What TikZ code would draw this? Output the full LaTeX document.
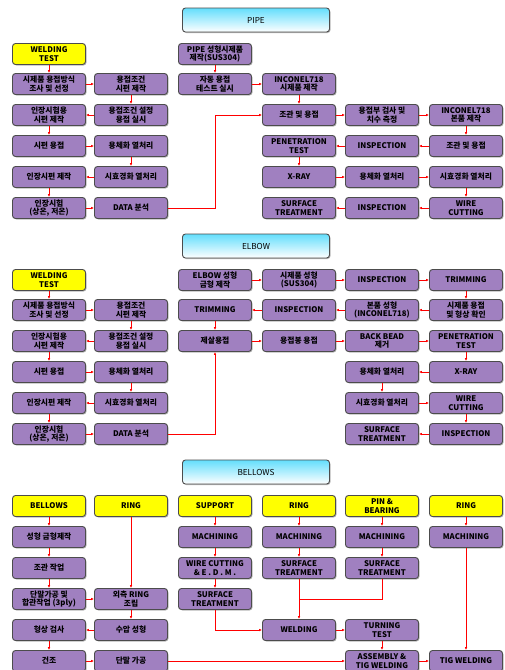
\documentclass[tikz,border=0pt]{standalone}
\usepackage{fontspec}
\setmainfont{Noto Sans CJK KR}
\usetikzlibrary{arrows.meta,shadows}

\definecolor{mov}{RGB}{160,128,192}
\definecolor{galben}{RGB}{255,255,0}
\definecolor{cian}{RGB}{100,222,252}

\tikzset{
  etapa/.style={draw=black!70, line width=0.9pt, fill=mov, rounded corners=3pt,
    minimum width=73pt, minimum height=21pt, inner sep=1pt, align=center,
    font=\bfseries\fontsize{7.8}{8.4}\selectfont,
    drop shadow={shadow xshift=1pt, shadow yshift=-1pt, fill=black!55}},
  test/.style={etapa, fill=galben},
  titlu/.style={draw=black!70, line width=0.9pt, rounded corners=3pt,
    top color=cian, bottom color=white, minimum width=147pt, minimum height=24pt,
    font=\fontsize{8.2}{9}\selectfont,
    drop shadow={shadow xshift=1pt, shadow yshift=-1pt, fill=black!55}},
  sageata/.style={red, line width=0.6pt, -{Latex[length=3pt,width=2.6pt]}},
  linie/.style={red, line width=0.6pt}
}

\begin{document}
\begin{tikzpicture}[x=1pt,y=-1pt]
  \useasboundingbox[fill=white] (0,0) rectangle (505,670);

  % PIPE
  \node[titlu] (tp) at (256,20) {PIPE};
  \node[test]  (pa1) at (49,54)  {WELDING\\TEST};
  \node[etapa] (pa2) at (49,84)  {시제품 용접방식\\조사 및 선정};
  \node[etapa] (pb2) at (131,84) {용접조건\\시편 제작};
  \node[etapa] (pb3) at (131,115) {용접조건 설정\\용접 실시};
  \node[etapa] (pa3) at (49,115) {인장시험용\\시편 제작};
  \node[etapa] (pa4) at (49,146) {시편 용접};
  \node[etapa] (pb4) at (131,146) {용체화 열처리};
  \node[etapa] (pb5) at (131,177) {시효경화 열처리};
  \node[etapa] (pa5) at (49,177) {인장시편 제작};
  \node[etapa] (pa6) at (49,208) {인장시험\\(상온, 저온)};
  \node[etapa] (pb6) at (131,208) {DATA 분석};
  \node[etapa] (pc1) at (215,54) {PIPE 성형시제품\\제작(SUS304)};
  \node[etapa] (pc2) at (215,84) {자동 용접\\테스트 실시};
  \node[etapa] (pd2) at (299,84) {INCONEL718\\시제품 제작};
  \node[etapa] (pd3) at (299,115) {조관 및 용접};
  \node[etapa] (pe3) at (382,115) {용접부 검사 및\\치수 측정};
  \node[etapa] (pf3) at (466,115) {INCONEL718\\본품 제작};
  \node[etapa] (pf4) at (466,146) {조관 및 용접};
  \node[etapa] (pe4) at (382,146) {INSPECTION};
  \node[etapa] (pd4) at (299,146) {PENETRATION\\TEST};
  \node[etapa] (pd5) at (299,177) {X-RAY};
  \node[etapa] (pe5) at (382,177) {용체화 열처리};
  \node[etapa] (pf5) at (466,177) {시효경화 열처리};
  \node[etapa] (pf6) at (466,208) {WIRE\\CUTTING};
  \node[etapa] (pe6) at (382,208) {INSPECTION};
  \node[etapa] (pd6) at (299,208) {SURFACE\\TREATMENT};
  \coordinate (pcot) at (215,115);

  \draw[sageata] (pa1) -- (pa2);
  \draw[sageata] (pa2) -- (pb2);
  \draw[sageata] (pb2) -- (pb3);
  \draw[sageata] (pb3) -- (pa3);
  \draw[sageata] (pa3) -- (pa4);
  \draw[sageata] (pa4) -- (pb4);
  \draw[sageata] (pb4) -- (pb5);
  \draw[sageata] (pb5) -- (pa5);
  \draw[sageata] (pa5) -- (pa6);
  \draw[sageata] (pa6) -- (pb6);
  \draw[sageata] (pb6.east) -| (pcot) -- (pd3);
  \draw[sageata] (pc1) -- (pc2);
  \draw[sageata] (pc2) -- (pd2);
  \draw[sageata] (pd2) -- (pd3);
  \draw[sageata] (pd3) -- (pe3);
  \draw[sageata] (pe3) -- (pf3);
  \draw[sageata] (pf3) -- (pf4);
  \draw[sageata] (pf4) -- (pe4);
  \draw[sageata] (pe4) -- (pd4);
  \draw[sageata] (pd4) -- (pd5);
  \draw[sageata] (pd5) -- (pe5);
  \draw[sageata] (pe5) -- (pf5);
  \draw[sageata] (pf5) -- (pf6);
  \draw[sageata] (pf6) -- (pe6);
  \draw[sageata] (pe6) -- (pd6);

  % ELBOW
  \node[titlu] (te) at (256,246) {ELBOW};
  \node[test]  (ea1) at (49,280)  {WELDING\\TEST};
  \node[etapa] (ea2) at (49,310)  {시제품 용접방식\\조사 및 선정};
  \node[etapa] (eb2) at (131,310) {용접조건\\시편 제작};
  \node[etapa] (eb3) at (131,341) {용접조건 설정\\용접 실시};
  \node[etapa] (ea3) at (49,341) {인장시험용\\시편 제작};
  \node[etapa] (ea4) at (49,372) {시편 용접};
  \node[etapa] (eb4) at (131,372) {용체화 열처리};
  \node[etapa] (eb5) at (131,403) {시효경화 열처리};
  \node[etapa] (ea5) at (49,403) {인장시편 제작};
  \node[etapa] (ea6) at (49,434) {인장시험\\(상온, 저온)};
  \node[etapa] (eb6) at (131,434) {DATA 분석};
  \node[etapa] (ec1) at (215,280) {ELBOW 성형\\금형 제작};
  \node[etapa] (ed1) at (299,280) {시제품 성형\\(SUS304)};
  \node[etapa] (ee1) at (382,280) {INSPECTION};
  \node[etapa] (ef1) at (466,280) {TRIMMING};
  \node[etapa] (ef2) at (466,310) {시제품 용접\\및 형상 확인};
  \node[etapa] (ee2) at (382,310) {본품 성형\\(INCONEL718)};
  \node[etapa] (ed2) at (299,310) {INSPECTION};
  \node[etapa] (ec2) at (215,310) {TRIMMING};
  \node[etapa] (ec3) at (215,341) {제살용접};
  \node[etapa] (ed3) at (299,341) {용접봉 용접};
  \node[etapa] (ee3) at (382,341) {BACK BEAD\\제거};
  \node[etapa] (ef3) at (466,341) {PENETRATION\\TEST};
  \node[etapa] (ef4) at (466,372) {X-RAY};
  \node[etapa] (ee4) at (382,372) {용체화 열처리};
  \node[etapa] (ee5) at (382,403) {시효경화 열처리};
  \node[etapa] (ef5) at (466,403) {WIRE\\CUTTING};
  \node[etapa] (ef6) at (466,434) {INSPECTION};
  \node[etapa] (ee6) at (382,434) {SURFACE\\TREATMENT};

  \draw[sageata] (ea1) -- (ea2);
  \draw[sageata] (ea2) -- (eb2);
  \draw[sageata] (eb2) -- (eb3);
  \draw[sageata] (eb3) -- (ea3);
  \draw[sageata] (ea3) -- (ea4);
  \draw[sageata] (ea4) -- (eb4);
  \draw[sageata] (eb4) -- (eb5);
  \draw[sageata] (eb5) -- (ea5);
  \draw[sageata] (ea5) -- (ea6);
  \draw[sageata] (ea6) -- (eb6);
  \draw[sageata] (eb6.east) -| (ec3.south);
  \draw[sageata] (ec1) -- (ed1);
  \draw[sageata] (ed1) -- (ee1);
  \draw[sageata] (ee1) -- (ef1);
  \draw[sageata] (ef1) -- (ef2);
  \draw[sageata] (ef2) -- (ee2);
  \draw[sageata] (ee2) -- (ed2);
  \draw[sageata] (ed2) -- (ec2);
  \draw[sageata] (ec2) -- (ec3);
  \draw[sageata] (ec3) -- (ed3);
  \draw[sageata] (ed3) -- (ee3);
  \draw[sageata] (ee3) -- (ef3);
  \draw[sageata] (ef3) -- (ef4);
  \draw[sageata] (ef4) -- (ee4);
  \draw[sageata] (ee4) -- (ee5);
  \draw[sageata] (ee5) -- (ef5);
  \draw[sageata] (ef5) -- (ef6);
  \draw[sageata] (ef6) -- (ee6);

  % BELLOWS
  \node[titlu] (tb) at (256,472) {BELLOWS};
  \node[test]  (ba1) at (49,506)  {BELLOWS};
  \node[test]  (bb1) at (131,506) {RING};
  \node[test]  (bc1) at (215,506) {SUPPORT};
  \node[test]  (bd1) at (299,506) {RING};
  \node[test]  (be1) at (382,506) {PIN \&\\BEARING};
  \node[test]  (bf1) at (466,506) {RING};
  \node[etapa] (ba2) at (49,537)  {성형 금형제작};
  \node[etapa] (ba3) at (49,568)  {조관 작업};
  \node[etapa] (ba4) at (49,599)  {단말가공 및\\합관작업 (3ply)};
  \node[etapa] (bb4) at (131,599) {외측 RING\\조립};
  \node[etapa] (bb5) at (131,630) {수압 성형};
  \node[etapa] (ba5) at (49,630)  {형상 검사};
  \node[etapa] (ba6) at (49,661)  {건조};
  \node[etapa] (bb6) at (131,661) {단말 가공};
  \node[etapa] (bc2) at (215,537) {MACHINING};
  \node[etapa] (bc3) at (215,568) {WIRE CUTTING\\\& E . D . M .};
  \node[etapa] (bc4) at (215,599) {SURFACE\\TREATMENT};
  \node[etapa] (bd2) at (299,537) {MACHINING};
  \node[etapa] (bd3) at (299,568) {SURFACE\\TREATMENT};
  \node[etapa] (be2) at (382,537) {MACHINING};
  \node[etapa] (be3) at (382,568) {SURFACE\\TREATMENT};
  \node[etapa] (bf2) at (466,537) {MACHINING};
  \node[etapa] (bd5) at (299,630) {WELDING};
  \node[etapa] (be5) at (382,630) {TURNING\\TEST};
  \node[etapa] (be6) at (382,661) {ASSEMBLY \&\\TIG WELDING};
  \node[etapa] (bf6) at (466,661) {TIG WELDING};
  \coordinate (bnod) at (299,599);

  \draw[sageata] (ba1) -- (ba2);
  \draw[sageata] (ba2) -- (ba3);
  \draw[sageata] (ba3) -- (ba4);
  \draw[sageata] (ba4) -- (bb4);
  \draw[sageata] (bb1) -- (bb4);
  \draw[sageata] (bb4) -- (bb5);
  \draw[sageata] (bb5) -- (ba5);
  \draw[sageata] (ba5) -- (ba6);
  \draw[sageata] (ba6) -- (bb6);
  \draw[sageata] (bb6) -- (be6);
  \draw[sageata] (bc1) -- (bc2);
  \draw[sageata] (bc2) -- (bc3);
  \draw[sageata] (bc3) -- (bc4);
  \draw[sageata] (bc4.south) |- (bd5.west);
  \draw[sageata] (bd1) -- (bd2);
  \draw[sageata] (bd2) -- (bd3);
  \draw[sageata] (bd3) -- (bd5);
  \draw[sageata] (be1) -- (be2);
  \draw[sageata] (be2) -- (be3);
  \draw[linie] (be3.south) |- (bnod);
  \draw[sageata] (bf1) -- (bf2);
  \draw[sageata] (bf2) -- (bf6);
  \draw[sageata] (bd5) -- (be5);
  \draw[sageata] (be5) -- (be6);
  \draw[sageata] (be6) -- (bf6);
\end{tikzpicture}
\end{document}
